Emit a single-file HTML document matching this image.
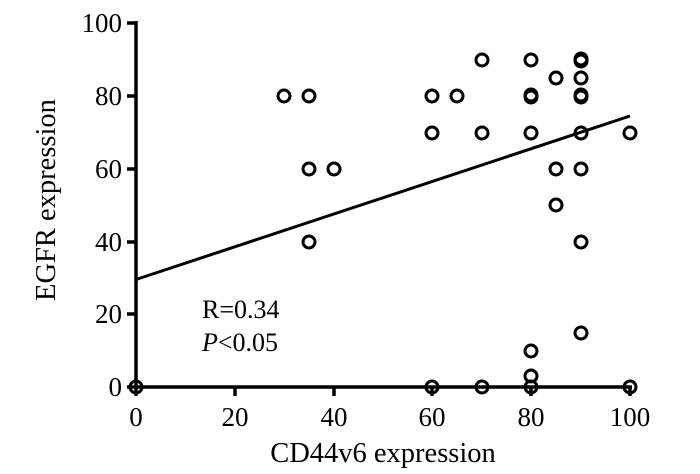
<!DOCTYPE html>
<html><head><style>body{margin:0;background:#fff}svg{display:block}text{font-family:"Liberation Serif",serif;fill:#000}</style></head><body>
<svg width="700" height="474" xmlns="http://www.w3.org/2000/svg">
<g stroke="#000" stroke-width="3.5" fill="none">
<line x1="136" y1="21" x2="136" y2="389"/>
<line x1="134" y1="387" x2="632" y2="387"/>
<line x1="127" y1="23" x2="136" y2="23"/><line x1="127" y1="96" x2="136" y2="96"/><line x1="127" y1="169" x2="136" y2="169"/><line x1="127" y1="242" x2="136" y2="242"/><line x1="127" y1="314" x2="136" y2="314"/><line x1="127" y1="387" x2="136" y2="387"/>
<line x1="136" y1="387" x2="136" y2="396"/><line x1="235" y1="387" x2="235" y2="396"/><line x1="334" y1="387" x2="334" y2="396"/><line x1="432" y1="387" x2="432" y2="396"/><line x1="531" y1="387" x2="531" y2="396"/><line x1="630" y1="387" x2="630" y2="396"/>
<line x1="136" y1="279.5" x2="630" y2="116" stroke-width="3"/>
</g>
<g font-size="27" text-anchor="end">
<text x="122" y="32">100</text><text x="122" y="105">80</text><text x="122" y="178">60</text><text x="122" y="251">40</text><text x="122" y="323">20</text><text x="122" y="396">0</text>
</g>
<g font-size="27" text-anchor="middle">
<text x="136" y="426">0</text><text x="235" y="426">20</text><text x="334" y="426">40</text><text x="432" y="426">60</text><text x="531" y="426">80</text><text x="630" y="426">100</text>
</g>
<g font-size="28.5" text-anchor="middle">
<text x="383" y="462">CD44v6 expression</text>
<text transform="translate(55,200) rotate(-90)">EGFR expression</text>
</g>
<text x="202" y="318" font-size="26">R=0.34</text>
<text x="202" y="351" font-size="26"><tspan font-style="italic">P</tspan>&lt;0.05</text>
<g stroke="#000" stroke-width="3" fill="none">
<circle cx="136" cy="387" r="6"/>
<circle cx="284" cy="96" r="6"/><circle cx="309" cy="96" r="6"/><circle cx="309" cy="169" r="6"/><circle cx="334" cy="169" r="6"/><circle cx="309" cy="242" r="6"/>
<circle cx="432" cy="96" r="6"/><circle cx="432" cy="133" r="6"/><circle cx="457" cy="96" r="6"/><circle cx="482" cy="60" r="6"/><circle cx="482" cy="133" r="6"/><circle cx="432" cy="387" r="6"/><circle cx="482" cy="387" r="6"/>
<circle cx="531" cy="60" r="6"/><circle cx="531" cy="95" r="6"/><circle cx="531" cy="97" r="6"/><circle cx="531" cy="133" r="6"/><circle cx="531" cy="351" r="6"/><circle cx="531" cy="376" r="6"/><circle cx="531" cy="387" r="6"/>
<circle cx="556" cy="78" r="6"/><circle cx="556" cy="169" r="6"/><circle cx="556" cy="205" r="6"/>
<circle cx="581" cy="59" r="6"/><circle cx="581" cy="61" r="6"/><circle cx="581" cy="78" r="6"/><circle cx="581" cy="95" r="6"/><circle cx="581" cy="97" r="6"/><circle cx="581" cy="133" r="6"/><circle cx="581" cy="169" r="6"/><circle cx="581" cy="242" r="6"/><circle cx="581" cy="333" r="6"/>
<circle cx="630" cy="133" r="6"/><circle cx="630" cy="387" r="6"/>
</g>
</svg>
</body></html>
